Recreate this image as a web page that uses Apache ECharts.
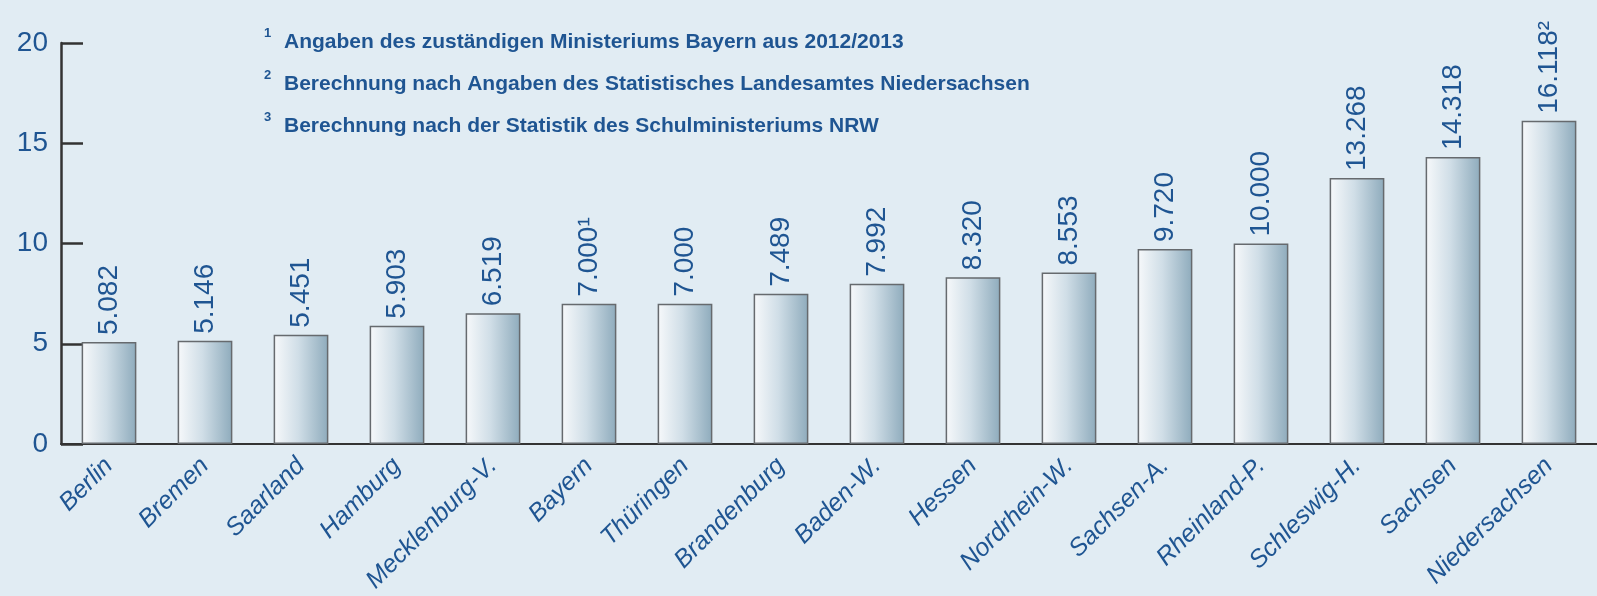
<!DOCTYPE html>
<html>
<head>
<meta charset="utf-8">
<script src="https://cdn.jsdelivr.net/npm/echarts@6/dist/echarts.min.js"></script>
<style>
  html, body { margin: 0; padding: 0; background: #e1ecf3; }
  #chart { width: 1597px; height: 596px; }
</style>
</head>
<body>
<div id="chart"></div>
<script>
// Bundesländer, sorted ascending
const categories = [
  'Berlin', 'Bremen', 'Saarland', 'Hamburg', 'Mecklenburg-V.', 'Bayern',
  'Thüringen', 'Brandenburg', 'Baden-W.', 'Hessen', 'Nordrhein-W.',
  'Sachsen-A.', 'Rheinland-P.', 'Schleswig-H.', 'Sachsen', 'Niedersachsen'
];
const values = [
  5.082, 5.146, 5.451, 5.903, 6.519, 7.000,
  7.000, 7.489, 7.992, 8.320, 8.553,
  9.720, 10.000, 13.268, 14.318, 16.118
];
// footnote markers appended to the value labels
const marks = ['', '', '', '', '', '¹', '', '', '', '', '', '', '', '', '', '²'];
const yTicks = [0, 5, 10, 15, 20];
const footnotes = [
  ['1', 'Angaben des zuständigen Ministeriums Bayern aus 2012/2013'],
  ['2', 'Berechnung nach Angaben des Statistisches Landesamtes Niedersachsen'],
  ['3', 'Berechnung nach der Statistik des Schulministeriums NRW']
];

const blue = '#1f5592';
const chart = echarts.init(document.getElementById('chart'));

const noteGraphics = [];
footnotes.forEach((f, i) => {
  const y = 44 + i * 42;
  noteGraphics.push({
    type: 'text', left: 264, top: y - 17,
    style: { text: f[0], fill: blue, font: 'bold 13px "Liberation Sans", Arial, sans-serif' }
  });
  noteGraphics.push({
    type: 'text', left: 284, top: y - 12,
    style: { text: f[1], fill: blue, font: 'bold 21px "Liberation Sans", Arial, sans-serif' }
  });
});

const option = {
  backgroundColor: '#e1ecf3',
  animation: false,
  textStyle: { fontFamily: '"Liberation Sans", Arial, sans-serif' },
  grid: { left: 61, right: 0, top: 43, bottom: 152 },
  graphic: noteGraphics,
  xAxis: {
    type: 'category',
    data: categories,
    axisLine: { lineStyle: { color: '#333', width: 2 } },
    axisTick: { inside: true, length: 6, lineStyle: { color: '#222', width: 2 } },
    axisLabel: {
      rotate: 45,
      color: blue,
      fontSize: 25,
      fontStyle: 'italic',
      margin: 18,
      interval: 0
    }
  },
  yAxis: {
    type: 'value',
    min: yTicks[0],
    max: yTicks[yTicks.length - 1],
    interval: yTicks[1] - yTicks[0],
    axisLine: { show: true, lineStyle: { color: '#333', width: 2.5 } },
    axisTick: { show: true, inside: true, length: 22, lineStyle: { color: '#333', width: 2.5 } },
    axisLabel: { color: blue, fontSize: 28, margin: 13 },
    splitLine: { show: false }
  },
  series: [
    {
      type: 'bar',
      data: values,
      barWidth: '57%',
      itemStyle: {
        color: new echarts.graphic.LinearGradient(0, 0, 1, 0, [
          { offset: 0, color: '#f7f9fb' },
          { offset: 0.45, color: '#d0dee7' },
          { offset: 1, color: '#8eabbc' }
        ]),
        borderColor: '#666a6e',
        borderWidth: 1.5
      },
      label: {
        show: true,
        position: 'top',
        rotate: 90,
        align: 'left',
        verticalAlign: 'middle',
        distance: 7,
        color: blue,
        fontSize: 28,
        formatter: p => values[p.dataIndex].toFixed(3) + marks[p.dataIndex]
      }
    }
  ]
};

chart.setOption(option);
</script>
</body>
</html>
